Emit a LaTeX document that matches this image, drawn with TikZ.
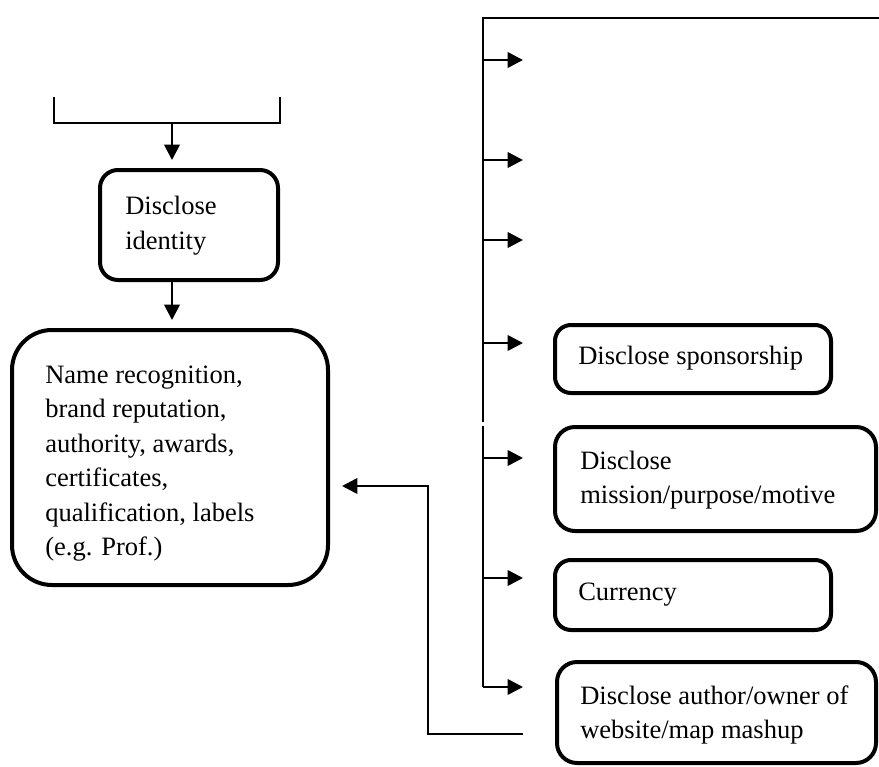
\documentclass[tikz,border=0pt]{standalone}
\usepackage{fontspec}
\setmainfont{Liberation Serif}
\usetikzlibrary{arrows.meta}

\begin{document}
\begin{tikzpicture}[
  x=0.75pt, y=-0.75pt,
  font=\fontsize{19.9pt}{25.9pt}\selectfont,
  line join=miter,
  conn/.style={line width=2pt},
  arr/.style={conn, -{Triangle[length=11.5pt,width=11.5pt]}},
  card/.style={draw, line width=3pt, inner sep=0pt, anchor=center},
  txt/.style={anchor=west, align=left, inner sep=0pt},
]
\useasboundingbox (0,0) rectangle (879,767);
\clip (0,0) rectangle (879,767);

% ---- left column ----
\coordinate (brL) at (54,97);
\coordinate (brR) at (280,97);
\coordinate (bx)  at (172,123);
\draw[conn] (brL) -- (54,123) -- (280,123) -- (brR);

\node[card, rounded corners=13.5pt, minimum width=133.5pt, minimum height=82.5pt]
  (ident) at (189,225) {};
\node[txt] (identT) at ([xshift=20.25pt,yshift=-0.5pt]ident.west) {Disclose\\identity};

\node[card, rounded corners=30pt, minimum width=237pt, minimum height=191.25pt]
  (big) at (170,457.5) {};
\node[txt] (bigT) at ([xshift=26.25pt,yshift=-4.5pt]big.west)
  {Name recognition,\\brand reputation,\\authority, awards,\\certificates,\\qualification, labels\\(e.g. Prof.)};

\draw[arr, shorten >=6pt] (bx) -- (bx |- ident.north);
\draw[arr, shorten >=6pt] (ident.south -| bx) -- (bx |- big.north);

% ---- right column ----
\node[card, rounded corners=12pt, minimum width=207pt, minimum height=51pt]
  (spons) at (693,359) {};
\node[txt] (sponsT) at ([xshift=18.75pt,yshift=0.5pt]spons.west) {Disclose sponsorship};

\node[card, rounded corners=15pt, minimum width=240.75pt, minimum height=78pt]
  (mission) at (715.5,479) {};
\node[txt] (missionT) at ([xshift=20.25pt,yshift=-0.75pt]mission.west) {Disclose\\mission/purpose/motive};

\node[card, rounded corners=12pt, minimum width=207pt, minimum height=52.5pt]
  (curr) at (693,595) {};
\node[txt] (currT) at ([xshift=18.75pt,yshift=0pt]curr.west) {Currency};

\node[card, rounded corners=15pt, minimum width=239.25pt, minimum height=75.75pt]
  (author) at (716.5,712.5) {};
\node[txt] (authorT) at ([xshift=18.75pt,yshift=-2pt]author.west) {Disclose author/owner of\\website/map mashup};

% spine with its branches
\coordinate (top) at (885,18);
\coordinate (sp0) at (483,18);
\coordinate (sp1) at (483,422);
\coordinate (sp2) at (483,426);
\coordinate (sp3) at (483,687);
\draw[conn] (top) -- (sp0) -- (sp1);
\draw[conn] (sp2) -- (sp3);

\foreach \name/\yy in {e1/60, e2/160, e3/240, e4/343, e5/458, e6/578, e7/687}{
  \coordinate (\name) at (523,\yy);
  \draw[arr] (sp0 |- \name) -- (\name);
}

% feedback from the author box to the left column
\coordinate (ret) at (523,734);
\coordinate (retup) at (428,486);
\draw[arr, shorten >=9pt] (ret) -| (retup) -- (big.east |- retup);

\end{tikzpicture}
\end{document}
